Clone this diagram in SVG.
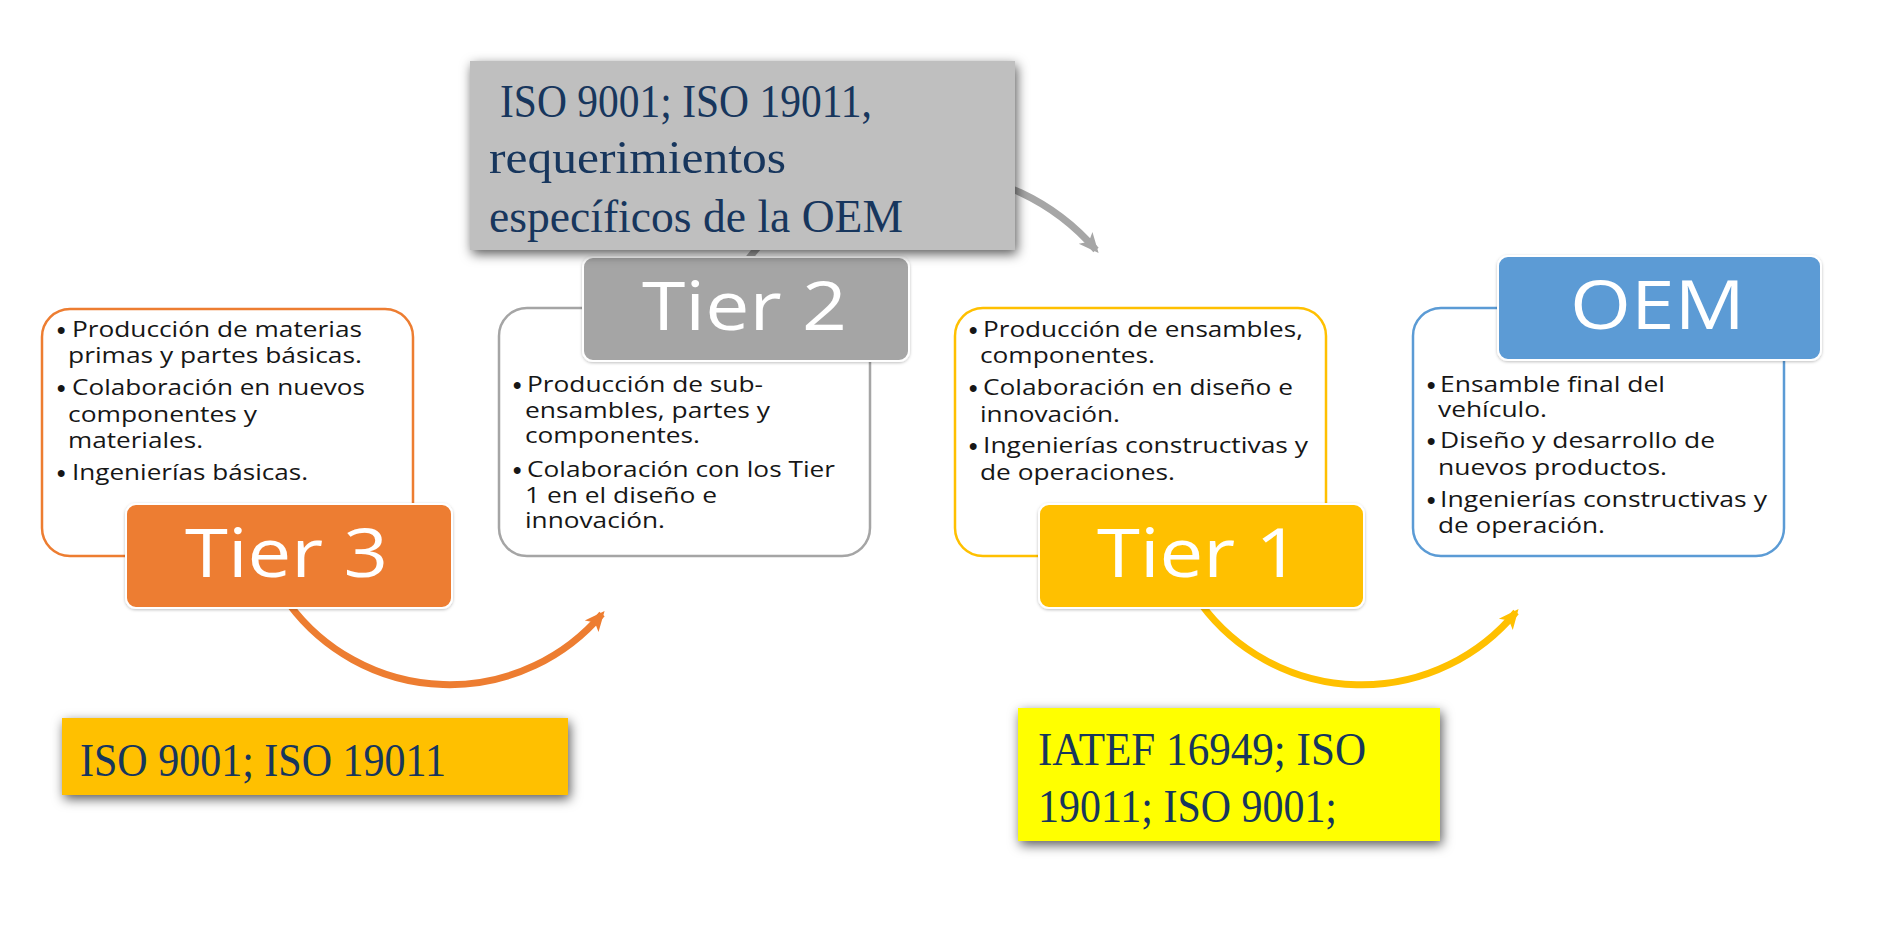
<svg xmlns="http://www.w3.org/2000/svg" width="1900" height="934" viewBox="0 0 1900 934">
<defs>
<style>
.box{fill:#ffffff;stroke-width:2.5}
.lbl{stroke:#ffffff;stroke-width:2}
.t{font-family:"Open Sans","Noto Sans","Liberation Sans",sans-serif;font-size:21px;fill:#161616}
.b{font-family:"Liberation Sans","DejaVu Sans",sans-serif;font-size:24px;font-weight:bold;fill:#161616}
.big{font-family:"Open Sans","Noto Sans","Liberation Sans",sans-serif;font-size:67px;fill:#ffffff}
.std{font-family:"Liberation Serif","DejaVu Serif",serif;font-size:47px;fill:#17365d}
.arc{fill:none;stroke-width:7}
</style>
<filter id="sh" x="-20%" y="-30%" width="140%" height="160%">
<feDropShadow dx="2" dy="4" stdDeviation="6" flood-color="#000000" flood-opacity="0.65"/>
</filter>
<filter id="lsh" x="-10%" y="-20%" width="120%" height="140%">
<feDropShadow dx="0" dy="1" stdDeviation="1.5" flood-color="#000000" flood-opacity="0.25"/>
</filter>
<marker id="ao" viewBox="0 -10 22 20" markerWidth="22" markerHeight="20" refX="16" refY="0" orient="auto" markerUnits="userSpaceOnUse">
<path d="M0,-9 L20,0 L0,9 L5,0 z" fill="#ed7d31"/>
</marker>
<marker id="ay" viewBox="0 -10 22 20" markerWidth="22" markerHeight="20" refX="16" refY="0" orient="auto" markerUnits="userSpaceOnUse">
<path d="M0,-9 L20,0 L0,9 L5,0 z" fill="#ffc000"/>
</marker>
<marker id="ag" viewBox="0 -10 22 20" markerWidth="22" markerHeight="20" refX="16" refY="0" orient="auto" markerUnits="userSpaceOnUse">
<path d="M0,-9 L20,0 L0,9 L5,0 z" fill="#a6a6a6"/>
</marker>
</defs>
<rect width="1900" height="934" fill="#ffffff"/>

<g id="connectors">
<path class="arc" stroke="#ed7d31" d="M 289 604 A 200 200 0 0 0 602 614" marker-end="url(#ao)"/>
<path class="arc" stroke="#ffc000" d="M 1201 604 A 200 200 0 0 0 1516 612" marker-end="url(#ay)"/>
<path class="arc" stroke="#a6a6a6" d="M 746 262 A 224 224 0 0 1 1096 250" marker-end="url(#ag)"/>
</g>

<g id="tier3">
<rect class="box" x="42" y="309" width="371" height="247" rx="28" stroke="#ed7d31"/>
<text class="b" x="57" y="338">•</text>
<text class="t" x="72" y="337" textLength="290" lengthAdjust="spacingAndGlyphs">Producción de materias</text>
<text class="t" x="68" y="363" textLength="294" lengthAdjust="spacingAndGlyphs">primas y partes básicas.</text>
<text class="b" x="57" y="396">•</text>
<text class="t" x="72" y="395" textLength="293" lengthAdjust="spacingAndGlyphs">Colaboración en nuevos</text>
<text class="t" x="68" y="422" textLength="189" lengthAdjust="spacingAndGlyphs">componentes y</text>
<text class="t" x="68" y="448" textLength="135" lengthAdjust="spacingAndGlyphs">materiales.</text>
<text class="b" x="57" y="481">•</text>
<text class="t" x="72" y="480" textLength="236" lengthAdjust="spacingAndGlyphs">Ingenierías básicas.</text>
<rect class="lbl" x="126" y="504" width="326" height="104" rx="10" fill="#ed7d31" filter="url(#lsh)"/>
<text class="big" x="185" y="577" textLength="203" lengthAdjust="spacingAndGlyphs">Tier 3</text>
</g>

<g id="tier2">
<rect class="box" x="499" y="308" width="371" height="248" rx="28" stroke="#a5a5a5"/>
<rect class="lbl" x="583" y="257" width="326" height="104" rx="10" fill="#a5a5a5" filter="url(#lsh)"/>
<text class="big" x="642" y="330" textLength="205" lengthAdjust="spacingAndGlyphs">Tier 2</text>
<text class="b" x="513" y="393">•</text>
<text class="t" x="527" y="392" textLength="236" lengthAdjust="spacingAndGlyphs">Producción de sub-</text>
<text class="t" x="525" y="418" textLength="245" lengthAdjust="spacingAndGlyphs">ensambles, partes y</text>
<text class="t" x="525" y="443" textLength="175" lengthAdjust="spacingAndGlyphs">componentes.</text>
<text class="b" x="513" y="478">•</text>
<text class="t" x="527" y="477" textLength="308" lengthAdjust="spacingAndGlyphs">Colaboración con los Tier</text>
<text class="t" x="525" y="503" textLength="192" lengthAdjust="spacingAndGlyphs">1 en el diseño e</text>
<text class="t" x="525" y="528" textLength="140" lengthAdjust="spacingAndGlyphs">innovación.</text>
</g>

<g id="tier1">
<rect class="box" x="955" y="308" width="371" height="248" rx="28" stroke="#ffc000"/>
<text class="b" x="969" y="338">•</text>
<text class="t" x="983" y="337" textLength="320" lengthAdjust="spacingAndGlyphs">Producción de ensambles,</text>
<text class="t" x="980" y="363" textLength="175" lengthAdjust="spacingAndGlyphs">componentes.</text>
<text class="b" x="969" y="396">•</text>
<text class="t" x="983" y="395" textLength="310" lengthAdjust="spacingAndGlyphs">Colaboración en diseño e</text>
<text class="t" x="980" y="422" textLength="140" lengthAdjust="spacingAndGlyphs">innovación.</text>
<text class="b" x="969" y="454">•</text>
<text class="t" x="983" y="453" textLength="325" lengthAdjust="spacingAndGlyphs">Ingenierías constructivas y</text>
<text class="t" x="980" y="480" textLength="195" lengthAdjust="spacingAndGlyphs">de operaciones.</text>
<rect class="lbl" x="1039" y="504" width="325" height="104" rx="10" fill="#ffc000" filter="url(#lsh)"/>
<text class="big" x="1097" y="577" textLength="203" lengthAdjust="spacingAndGlyphs">Tier 1</text>
</g>

<g id="oem">
<rect class="box" x="1413" y="308" width="371" height="248" rx="28" stroke="#5b9bd5"/>
<rect class="lbl" x="1498" y="256" width="323" height="104" rx="10" fill="#5b9bd5" filter="url(#lsh)"/>
<text class="big" x="1570" y="329" textLength="175" lengthAdjust="spacingAndGlyphs">OEM</text>
<text class="b" x="1427" y="393">•</text>
<text class="t" x="1440" y="392" textLength="225" lengthAdjust="spacingAndGlyphs">Ensamble final del</text>
<text class="t" x="1438" y="417" textLength="109" lengthAdjust="spacingAndGlyphs">vehículo.</text>
<text class="b" x="1427" y="449">•</text>
<text class="t" x="1440" y="448" textLength="275" lengthAdjust="spacingAndGlyphs">Diseño y desarrollo de</text>
<text class="t" x="1438" y="475" textLength="229" lengthAdjust="spacingAndGlyphs">nuevos productos.</text>
<text class="b" x="1427" y="508">•</text>
<text class="t" x="1440" y="507" textLength="327" lengthAdjust="spacingAndGlyphs">Ingenierías constructivas y</text>
<text class="t" x="1438" y="533" textLength="167" lengthAdjust="spacingAndGlyphs">de operación.</text>
</g>

<g id="std-tier2">
<rect x="470" y="61" width="545" height="189" fill="#bfbfbf" filter="url(#sh)"/>
<text class="std" x="500" y="117" textLength="372" lengthAdjust="spacingAndGlyphs">ISO 9001; ISO 19011,</text>
<text class="std" x="489" y="173" textLength="297" lengthAdjust="spacingAndGlyphs">requerimientos</text>
<text class="std" x="489" y="232" textLength="414" lengthAdjust="spacingAndGlyphs">específicos de la OEM</text>
</g>

<g id="std-tier3">
<rect x="62" y="718" width="506" height="77" fill="#ffc000" filter="url(#sh)"/>
<text class="std" x="80" y="776" textLength="366" lengthAdjust="spacingAndGlyphs">ISO 9001; ISO 19011</text>
</g>

<g id="std-tier1">
<rect x="1018" y="708" width="422" height="133" fill="#ffff00" filter="url(#sh)"/>
<text class="std" x="1038" y="765" textLength="328" lengthAdjust="spacingAndGlyphs">IATEF 16949; ISO</text>
<text class="std" x="1038" y="822" textLength="299" lengthAdjust="spacingAndGlyphs">19011; ISO 9001;</text>
</g>
</svg>
